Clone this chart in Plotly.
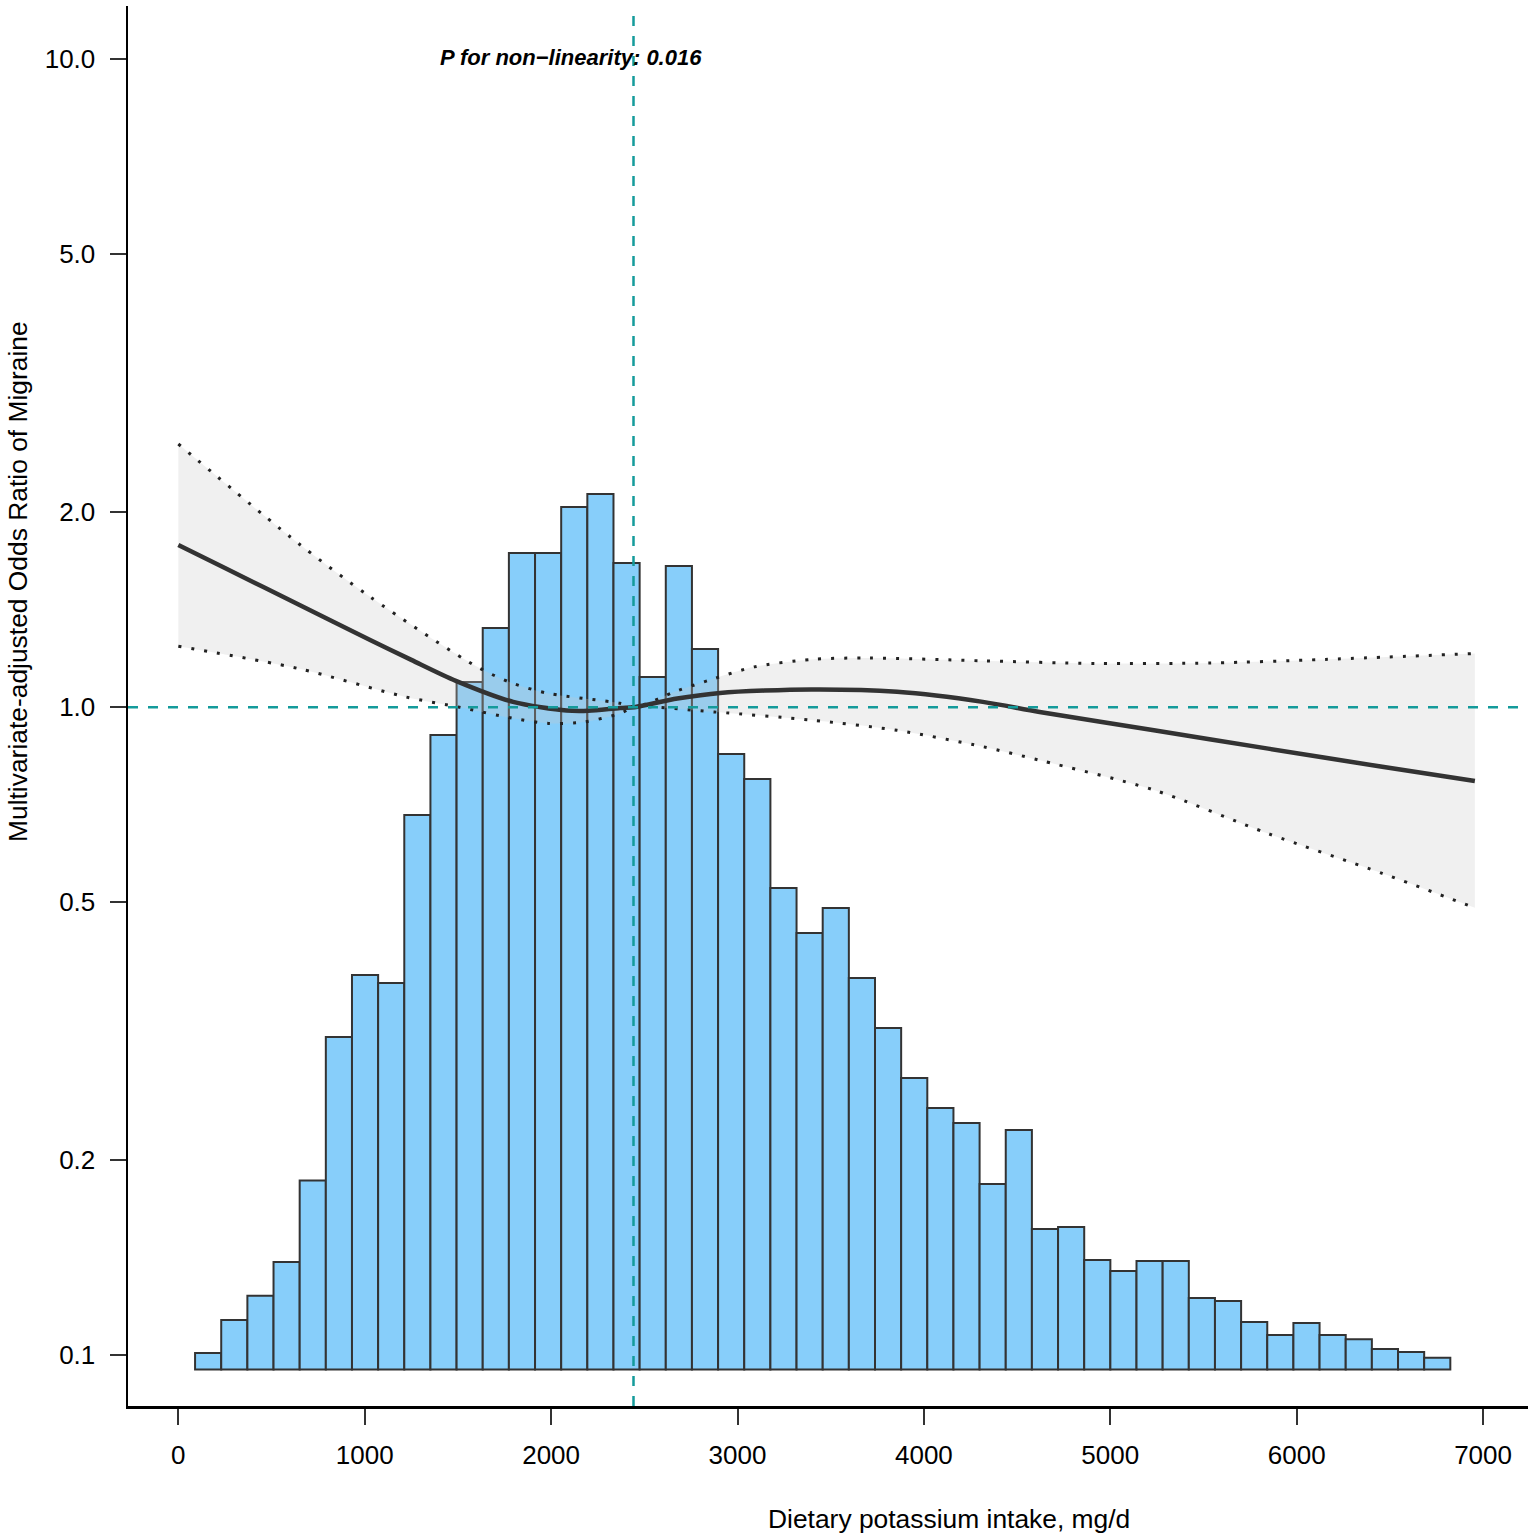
import plotly.graph_objects as go

# ---------------- data ----------------
# histogram of dietary potassium intake (bar tops expressed on the OR axis)
bin_first_center = 160.0
bin_width = 140.3
bar_base = 0.095
bar_tops = [0.1007, 0.1133, 0.1234, 0.1392, 0.1859, 0.3097, 0.3861, 0.3752,
            0.6819, 0.9059, 1.0937, 1.3251, 1.7298, 1.7298, 2.0372, 2.1335,
            1.6694, 1.1133, 1.6517, 1.2299, 0.8467, 0.7749, 0.5258, 0.4481,
            0.4898, 0.3819, 0.3198, 0.2677, 0.2406, 0.2281, 0.1836, 0.2225,
            0.1565, 0.1576, 0.1402, 0.1348, 0.1397, 0.1397, 0.1225, 0.1212,
            0.1125, 0.1074, 0.1121, 0.1074, 0.1058, 0.1022, 0.1011, 0.0990]

# restricted cubic spline estimate
curve_x = [0, 250, 645, 1029, 1250, 1489, 1796, 2083, 2200, 2370, 2447, 2677,
           2906, 3396, 3856, 4316, 4621, 5234, 5847, 6459, 6956]
curve_or = [1.780, 1.640, 1.440, 1.270, 1.183, 1.098, 1.019, 0.988, 0.987, 0.997,
            1.000, 1.031, 1.052, 1.065, 1.056, 1.019, 0.983, 0.921, 0.863, 0.809, 0.769]

upper_x = [0, 645, 1029, 1603, 1796, 1987, 2370, 2447, 2677, 2876, 3090, 3396,
           3703, 4316, 4928, 5541, 6153, 6956]
upper_or = [2.548, 1.789, 1.480, 1.154, 1.088, 1.050, 1.014, 1.000, 1.060, 1.107,
            1.154, 1.185, 1.191, 1.179, 1.168, 1.170, 1.185, 1.210]

lower_x = [0, 645, 1220, 1508, 1796, 1987, 2179, 2370, 2447, 2876, 3396, 3856,
           4316, 4621, 5234, 5847, 6459, 6956]
lower_or = [1.242, 1.147, 1.037, 1.000, 0.961, 0.944, 0.949, 0.978, 1.000, 0.983,
            0.955, 0.921, 0.869, 0.828, 0.745, 0.638, 0.554, 0.490]

ref_x = 2442
ref_or = 1.0

x_ticks = [0, 1000, 2000, 3000, 4000, 5000, 6000, 7000]
y_ticks = [0.1, 0.2, 0.5, 1.0, 2.0, 5.0, 10.0]
y_tick_text = ["0.1", "0.2", "0.5", "1.0", "2.0", "5.0", "10.0"]

p_text = "P for non\u2212linearity: 0.016"
x_title = "Dietary potassium intake, mg/d"
y_title = "Multivariate-adjusted Odds Ratio of Migraine"

# ---------------- figure ----------------
FONT = "Liberation Sans, Arial, sans-serif"
bin_centers = [bin_first_center + i * bin_width for i in range(len(bar_tops))]

W, H = 1535, 1538
PL, PR, PT, PB = 128, 1528, 6, 1406          # plot area in page pixels
PW, PH = PR - PL, PB - PT


def px(xp):
    return (xp - PL) / PW


def py(yp):
    return (PB - yp) / PH


fig = go.Figure()

fig.add_trace(go.Bar(
    x=bin_centers, y=[t - bar_base for t in bar_tops], base=bar_base,
    width=bin_width, marker=dict(color="#87CEFA", line=dict(color="#333333", width=2)),
    showlegend=False, hoverinfo="skip"))

# confidence band: lower bound, then upper bound filled down to it
fig.add_trace(go.Scatter(
    x=lower_x, y=lower_or, mode="lines",
    line=dict(color="#222222", width=3, dash="3px,10px", shape="spline", smoothing=0.8),
    showlegend=False, hoverinfo="skip"))
fig.add_trace(go.Scatter(
    x=upper_x, y=upper_or, mode="lines", fill="tonexty",
    fillcolor="rgba(200,200,200,0.28)",
    line=dict(color="#222222", width=3, dash="3px,10px", shape="spline", smoothing=0.8),
    showlegend=False, hoverinfo="skip"))

fig.add_trace(go.Scatter(
    x=curve_x, y=curve_or, mode="lines",
    line=dict(color="#333333", width=4.5, shape="spline", smoothing=0.8),
    showlegend=False, hoverinfo="skip"))

fig.add_hline(y=ref_or, line=dict(color="#149b9b", width=2.5, dash="10px,10px"), layer="above")
fig.add_vline(x=ref_x, line=dict(color="#149b9b", width=2.5, dash="10px,10px"), layer="above")

fig.add_annotation(text="<b><i>" + p_text + "</i></b>", x=1394, xref="x",
                   y=py(57), yref="paper", xanchor="left", yanchor="middle",
                   showarrow=False, font=dict(family=FONT, size=22, color="#000000"))
fig.add_annotation(text=x_title, x=px(949), y=py(1519),
                   xref="paper", yref="paper", xanchor="center", yanchor="middle",
                   showarrow=False, font=dict(family=FONT, size=26.4, color="#000000"))
fig.add_annotation(text=y_title, x=px(18), y=py(582),
                   xref="paper", yref="paper", xanchor="center", yanchor="middle",
                   textangle=-90, showarrow=False,
                   font=dict(family=FONT, size=26.4, color="#000000"))

fig.update_layout(
    width=W, height=H,
    margin=dict(l=PL, r=W - PR, t=PT, b=H - PB, pad=0),
    paper_bgcolor="white", plot_bgcolor="white",
    bargap=0, showlegend=False, hovermode=False,
    font=dict(family=FONT, color="#000000"),
)
fig.update_xaxes(
    range=[-270, 7241], tickvals=x_ticks, showgrid=False, zeroline=False,
    showline=True, linecolor="#000000", linewidth=2.5,
    ticks="outside", ticklen=16, tickwidth=2, tickcolor="#333333",
    tickfont=dict(family=FONT, size=26, color="#000000"), ticklabelstandoff=8)
fig.update_yaxes(
    type="log", range=[-1.0787, 1.0823], tickvals=y_ticks, ticktext=y_tick_text,
    showgrid=False, zeroline=False,
    showline=True, linecolor="#000000", linewidth=2.5,
    ticks="outside", ticklen=16, tickwidth=2, tickcolor="#333333",
    tickfont=dict(family=FONT, size=26, color="#000000"), ticklabelstandoff=9)

fig.write_html("out.html",
               config={"displayModeBar": False, "staticPlot": True},
               post_script="document.body.style.margin='0px';"
                           "document.body.style.overflow='hidden';")
